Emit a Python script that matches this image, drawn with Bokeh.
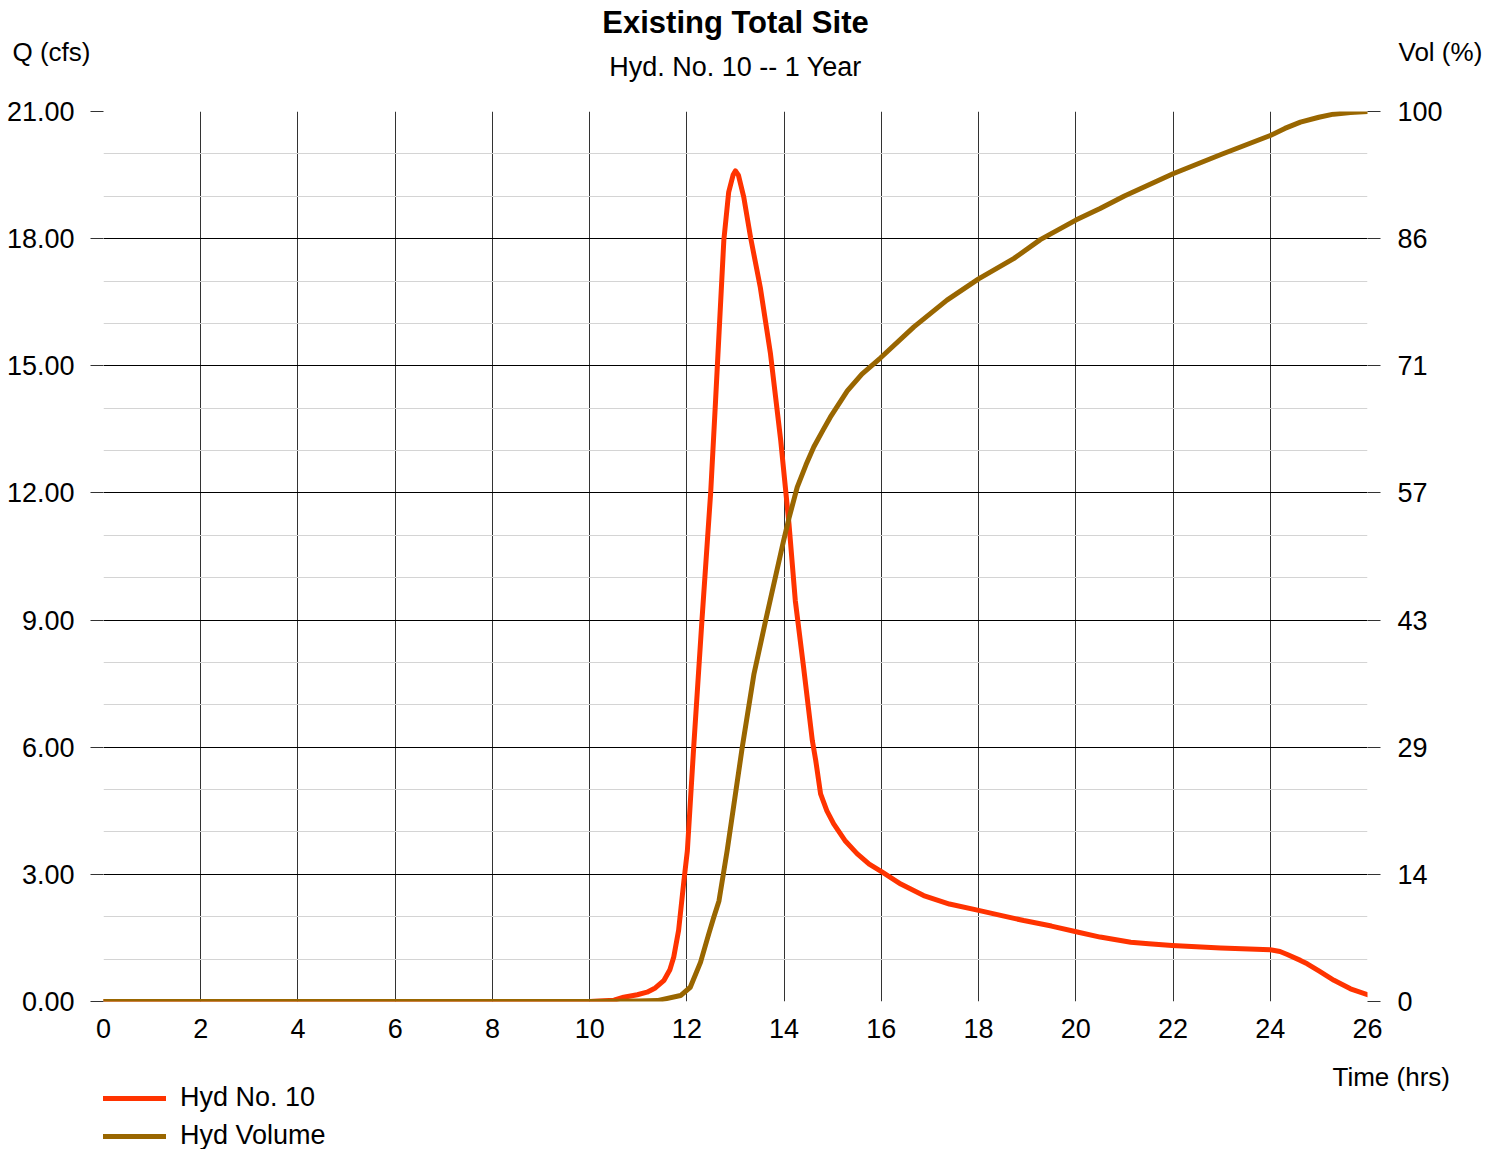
from bokeh.plotting import figure
from bokeh.layouts import column
from bokeh.models import (Range1d, LinearAxis, FixedTicker, CustomJSTickFormatter,
                          NumeralTickFormatter, Label, Legend, LegendItem)
from bokeh.embed import file_html
from bokeh.resources import INLINE

FONT = "Liberation Sans"

# ---------------- data ----------------
title_text = "Existing Total Site"
subtitle_text = "Hyd. No. 10 -- 1 Year"
left_label = "Q (cfs)"
right_label = "Vol (%)"
x_label = "Time (hrs)"

x_ticks = list(range(0, 27, 2))
q_ticks = [0, 3, 6, 9, 12, 15, 18, 21]
q_minor = [v for v in range(0, 22) if v % 3]
vol_ticks = [100 * k / 7 for k in range(8)]

t_hyd = [0, 10.0, 10.5, 10.7, 10.98, 11.18, 11.35, 11.53, 11.65, 11.73, 11.83, 11.94,
         12.01, 12.14, 12.31, 12.49, 12.59, 12.76, 12.86, 12.95, 13.0, 13.06, 13.17,
         13.31, 13.51, 13.72, 13.93, 14.1, 14.23, 14.4, 14.58, 14.65, 14.75, 14.88,
         15.02, 15.25, 15.5, 15.75, 16.02, 16.4, 16.87, 17.4, 18.0, 18.5, 18.93, 19.5,
         20.03, 20.5, 21.13, 21.5, 21.98, 22.98, 24.0, 24.2, 24.35, 24.62, 24.76, 25.0,
         25.31, 25.65, 26.0]
q_hyd = [0, 0, 0.03, 0.1, 0.16, 0.22, 0.32, 0.5, 0.75, 1.05, 1.68, 2.86,
         3.56, 6.0, 9.0, 12.02, 14.18, 17.96, 19.1, 19.5, 19.6, 19.5, 18.98,
         18.03, 16.85, 15.28, 13.24, 11.27, 9.46, 7.89, 6.16, 5.69, 4.9, 4.5,
         4.19, 3.8, 3.49, 3.24, 3.05, 2.77, 2.5, 2.3, 2.15, 2.02, 1.91, 1.78,
         1.64, 1.52, 1.4, 1.36, 1.32, 1.26, 1.22, 1.18, 1.11, 0.97, 0.89, 0.72,
         0.5, 0.3, 0.16]

t_vol = [0, 10.0, 11.0, 11.39, 11.87, 12.07, 12.28, 12.45, 12.55, 12.66, 12.83, 13.14,
         13.38, 13.62, 13.99, 14.1, 14.27, 14.45, 14.61, 14.8, 14.95, 15.3, 15.6, 15.98,
         16.67, 17.35, 18.0, 18.73, 19.27, 20.0, 20.5, 21.0, 22.0, 23.0, 24.0, 24.3,
         24.62, 25.0, 25.3, 25.65, 26.0]
v_vol = [0, 0, 0.05, 0.1, 0.67, 1.6, 4.4, 7.6, 9.4, 11.3, 17.0, 28.6,
         36.8, 42.8, 51.8, 54.3, 57.8, 60.3, 62.3, 64.2, 65.65, 68.6, 70.5, 72.3,
         75.8, 78.8, 81.2, 83.5, 85.6, 87.8, 89.1, 90.5, 93.0, 95.2, 97.3, 98.1,
         98.8, 99.35, 99.7, 99.9, 100.0]

series_names = ["Hyd No. 10", "Hyd Volume"]
series_colors = ["#ff3300", "#996600"]

W = 1504
TOP_H = 90
BOT_H = 97
MAIN_H = 1149 - TOP_H - BOT_H
BL, BR = 103, 137


def text_fig(h):
    f = figure(width=W, height=h, output_backend="svg", toolbar_location=None,
               x_range=Range1d(0, 26), y_range=Range1d(h, 0),
               x_axis_type=None, y_axis_type=None,
               min_border_left=BL, min_border_right=BR,
               min_border_top=0, min_border_bottom=0)
    f.outline_line_color = None
    f.background_fill_color = "white"
    f.border_fill_color = "white"
    return f


def text_axis(txt, tick, standoff, size="26px"):
    ax = LinearAxis(ticker=FixedTicker(ticks=[tick], minor_ticks=[]),
                    formatter=CustomJSTickFormatter(code="return %r;" % txt))
    ax.axis_line_color = None
    ax.major_tick_out = 0
    ax.major_tick_in = 0
    ax.minor_tick_out = 0
    ax.minor_tick_in = 0
    ax.major_label_standoff = standoff
    ax.major_label_text_font = FONT
    ax.major_label_text_font_size = size
    ax.major_label_text_color = "black"
    return ax


# ---------------- top texts ----------------
top = text_fig(TOP_H)
top.add_layout(Label(x=13, y=22, text=title_text, text_align="center",
                     text_baseline="middle", text_font=FONT, text_font_size="31px",
                     text_font_style="bold", text_color="black"))
top.add_layout(Label(x=13, y=66, text=subtitle_text, text_align="center",
                     text_baseline="middle", text_font=FONT, text_font_size="27px",
                     text_color="black"))
top.add_layout(text_axis(left_label, 51, 13), "left")
top.add_layout(text_axis(right_label, 51, 31), "right")

# ---------------- main chart ----------------
p = figure(width=W, height=MAIN_H, output_backend="svg", toolbar_location=None,
           x_range=Range1d(0, 26), y_range=Range1d(0, 21),
           min_border_left=BL, min_border_right=BR, min_border_top=21,
           min_border_bottom=51)
p.outline_line_color = None
p.background_fill_color = "white"
p.border_fill_color = "white"

xt = FixedTicker(ticks=x_ticks, minor_ticks=[])
p.xaxis.ticker = xt
p.xgrid.ticker = xt
p.xaxis.axis_line_color = None
p.xaxis.major_tick_out = 0
p.xaxis.major_tick_in = 0
p.xaxis.minor_tick_out = 0
p.xaxis.minor_tick_in = 0
p.xaxis.major_label_standoff = 17

yt = FixedTicker(ticks=q_ticks, minor_ticks=q_minor)
p.yaxis.ticker = yt
p.ygrid.ticker = yt
p.yaxis.formatter = NumeralTickFormatter(format="0.00")
p.yaxis.axis_line_color = None
p.yaxis.major_tick_out = 13
p.yaxis.major_tick_in = 0
p.yaxis.major_tick_line_color = "#333333"
p.yaxis.minor_tick_out = 0
p.yaxis.minor_tick_in = 0
p.yaxis.major_label_standoff = 16

p.extra_y_ranges = {"vol": Range1d(0, 100)}
rax = LinearAxis(y_range_name="vol",
                 ticker=FixedTicker(ticks=vol_ticks, minor_ticks=[]),
                 formatter=CustomJSTickFormatter(code="return Math.round(tick).toString();"))
rax.axis_line_color = None
rax.major_tick_out = 13
rax.major_tick_in = 0
rax.major_tick_line_color = "#333333"
rax.minor_tick_out = 0
rax.minor_tick_in = 0
rax.major_label_standoff = 17
p.add_layout(rax, "right")

for ax in [p.xaxis[0], p.yaxis[0], rax]:
    ax.major_label_text_font = FONT
    ax.major_label_text_font_size = "27px"
    ax.major_label_text_color = "black"

p.xgrid.grid_line_color = "#333333"
p.xgrid.grid_line_width = 1
p.ygrid.grid_line_color = "black"
p.ygrid.grid_line_width = 1
p.ygrid.minor_grid_line_color = "#d4d4d4"
p.ygrid.minor_grid_line_width = 1

r1 = p.line(t_hyd, q_hyd, line_color=series_colors[0], line_width=5,
            line_join="round", line_cap="round")
r2 = p.line(t_vol, v_vol, y_range_name="vol", line_color=series_colors[1],
            line_width=5, line_join="round", line_cap="round")

# ---------------- bottom texts + legend ----------------
bot = text_fig(BOT_H)
bot.add_layout(text_axis(x_label, 24, -35), "right")
lg1 = bot.line(t_hyd, q_hyd, line_color=series_colors[0], line_width=5,
               line_cap="round", visible=False)
lg2 = bot.line(t_vol, v_vol, line_color=series_colors[1], line_width=5,
               line_cap="round", visible=False)
legend = Legend(items=[LegendItem(label=series_names[0], renderers=[lg1]),
                       LegendItem(label=series_names[1], renderers=[lg2])],
                location=(0, -2), orientation="vertical",
                glyph_width=63, glyph_height=28, label_height=28,
                label_standoff=14, padding=0, margin=0, spacing=7,
                border_line_color=None, background_fill_alpha=0,
                inactive_fill_alpha=0,
                label_text_font=FONT, label_text_font_size="27px",
                label_text_color="black")
bot.add_layout(legend)

layout = column(top, p, bot, spacing=0)
open("out.html", "w").write(file_html(layout, INLINE))
